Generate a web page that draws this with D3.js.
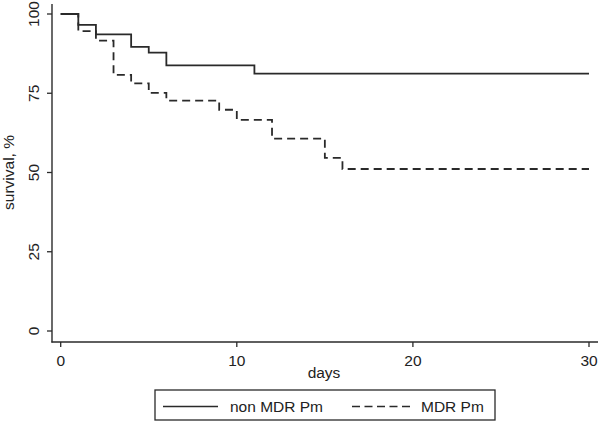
<!DOCTYPE html>
<html>
<head>
<meta charset="utf-8">
<script src="https://cdn.jsdelivr.net/npm/d3@7"></script>
<style>
  html, body { margin: 0; padding: 0; background: #fff; }
  svg { display: block; }
  text { font-family: "Liberation Sans", Arial, sans-serif; fill: #222; }
</style>
</head>
<body>
<svg id="chart" width="600" height="422"></svg>
<script>
// ---- data ----
const seriesNames = ["non MDR Pm", "MDR Pm"];
const nonMdrDays = [0, 1, 2, 4, 5, 6, 11, 30];
const nonMdrSurv = [100, 96.6, 93.6, 89.6, 87.8, 83.8, 81.2, 81.2];
const mdrDays = [0, 1, 2, 3, 4, 5, 6, 9, 10, 12, 15, 16, 30];
const mdrSurv = [100, 94.6, 91.6, 80.8, 78.1, 75.1, 72.7, 69.8, 66.6, 60.7, 54.6, 51.1, 51.1];
const xTicks = [0, 10, 20, 30];
const yTicks = [0, 25, 50, 75, 100];
const xTitle = "days";
const yTitle = "survival, %";

// ---- layout ----
const svg = d3.select("#chart");
const ink = "#2a2a2a";
const plotLeft = 52, plotRight = 598, plotTop = 4, plotBottom = 342;
const x = d3.scaleLinear().domain([0, 30]).range([60.7, 589]);
const y = d3.scaleLinear().domain([0, 100]).range([331, 14]);

// axis lines
svg.append("line").attr("x1", plotLeft).attr("x2", plotLeft)
  .attr("y1", plotTop).attr("y2", plotBottom + 0.6)
  .attr("stroke", ink).attr("stroke-width", 1.4);
svg.append("line").attr("x1", plotLeft - 0.6).attr("x2", plotRight)
  .attr("y1", plotBottom).attr("y2", plotBottom)
  .attr("stroke", ink).attr("stroke-width", 1.4);

// y ticks
const yg = svg.append("g");
yTicks.forEach(t => {
  yg.append("line").attr("x1", plotLeft - 5).attr("x2", plotLeft)
    .attr("y1", y(t)).attr("y2", y(t)).attr("stroke", ink).attr("stroke-width", 1.3);
  yg.append("text")
    .attr("transform", `translate(${38.5},${y(t)}) rotate(-90)`)
    .attr("text-anchor", "middle")
    .attr("font-size", 15.5)
    .text(t);
});

// x ticks
const xg = svg.append("g");
xTicks.forEach(t => {
  xg.append("line").attr("x1", x(t)).attr("x2", x(t))
    .attr("y1", plotBottom).attr("y2", plotBottom + 5).attr("stroke", ink).attr("stroke-width", 1.3);
  xg.append("text")
    .attr("x", x(t)).attr("y", 366)
    .attr("text-anchor", "middle")
    .attr("font-size", 15.5)
    .text(t);
});

// axis titles
svg.append("text").attr("x", 324).attr("y", 378)
  .attr("text-anchor", "middle").attr("font-size", 15.5).text(xTitle);
svg.append("text")
  .attr("transform", `translate(${13.5},${(y(0) + y(100)) / 2}) rotate(-90)`)
  .attr("text-anchor", "middle").attr("font-size", 15.5).text(yTitle);

// survival curves
const line = d3.line().x(d => x(d[0])).y(d => y(d[1])).curve(d3.curveStepAfter);
const nonMdr = nonMdrDays.map((d, i) => [d, nonMdrSurv[i]]);
const mdr = mdrDays.map((d, i) => [d, mdrSurv[i]]);

svg.append("path").datum(mdr).attr("d", line)
  .attr("fill", "none").attr("stroke", ink).attr("stroke-width", 1.8)
  .attr("stroke-dasharray", "8,5");
svg.append("path").datum(nonMdr).attr("d", line)
  .attr("fill", "none").attr("stroke", ink).attr("stroke-width", 1.8);

// legend
const lg = svg.append("g");
lg.append("rect").attr("x", 155).attr("y", 390).attr("width", 340).attr("height", 30)
  .attr("fill", "#fff").attr("stroke", ink).attr("stroke-width", 1.3);
lg.append("line").attr("x1", 163).attr("x2", 218).attr("y1", 406.5).attr("y2", 406.5)
  .attr("stroke", ink).attr("stroke-width", 1.6);
lg.append("text").attr("x", 230).attr("y", 412).attr("font-size", 15.5).text(seriesNames[0]);
lg.append("line").attr("x1", 352).attr("x2", 411).attr("y1", 406.5).attr("y2", 406.5)
  .attr("stroke", ink).attr("stroke-width", 1.6).attr("stroke-dasharray", "8,4.5");
lg.append("text").attr("x", 421).attr("y", 412).attr("font-size", 15.5).text(seriesNames[1]);
</script>
</body>
</html>
